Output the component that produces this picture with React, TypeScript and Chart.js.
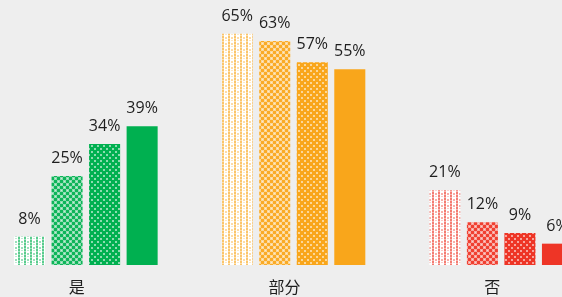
import React, { useEffect, useRef } from "react";
import { Chart, registerables } from "chart.js";

Chart.register(...registerables);

const categories = ["是", "部分", "否"];
const seriesNames = ["系列1", "系列2", "系列3", "系列4"];
const series1 = [8, 65, 21];
const series2 = [25, 63, 12];
const series3 = [34, 57, 9];
const series4 = [39, 55, 6];
const categoryColors = ["#00b050", "#f9a61b", "#ee3526"];

function makePattern(color: string, level: number): CanvasPattern | string {
  if (level === 3) return color;
  const c = document.createElement("canvas");
  c.width = 6;
  c.height = 6;
  const g = c.getContext("2d")!;
  g.fillStyle = "#ffffff";
  g.fillRect(0, 0, 6, 6);
  g.fillStyle = color;
  if (level === 0) {
    g.globalAlpha = 0.65;
    g.fillRect(0, 0, 2, 2);
    g.fillRect(0, 3, 2, 2);
    g.globalAlpha = 0.35;
    g.fillRect(0, 2, 2, 1);
    g.fillRect(0, 5, 2, 1);
    g.globalAlpha = 0.4;
    g.fillRect(3, 1, 2, 2);
    g.globalAlpha = 0.25;
    g.fillRect(3, 4, 2, 1);
  } else if (level === 1) {
    g.globalAlpha = 0.45;
    g.fillRect(0, 0, 6, 6);
    g.globalAlpha = 0.9;
    g.fillRect(0, 0, 3, 3);
    g.fillRect(3, 3, 3, 3);
    g.fillStyle = "#ffffff";
    g.globalAlpha = 0.5;
    g.fillRect(1, 4, 1, 1);
    g.fillRect(4, 1, 1, 1);
  } else {
    g.globalAlpha = 1;
    g.fillRect(0, 0, 6, 6);
    g.fillStyle = "#ffffff";
    g.globalAlpha = 0.55;
    g.fillRect(1, 1, 2, 2);
    g.fillRect(4, 4, 2, 2);
  }
  const ctx = document.createElement("canvas").getContext("2d")!;
  return ctx.createPattern(c, "repeat")!;
}

export default function App() {
  const ref = useRef<HTMLCanvasElement | null>(null);

  useEffect(() => {
    if (!ref.current) return;
    const allSeries = [series1, series2, series3, series4];
    const fills = allSeries.map((_, s) => categoryColors.map((col) => makePattern(col, s)));

    const labelPlugin = {
      id: "valueLabels",
      afterDatasetsDraw(chart: any) {
        const ctx = chart.ctx;
        ctx.save();
        ctx.font = '16px "Open Sans", "Noto Sans", sans-serif';
        ctx.fillStyle = "#1e1e1e";
        ctx.textAlign = "center";
        ctx.textBaseline = "alphabetic";
        chart.data.datasets.forEach((ds: any, di: number) => {
          const meta = chart.getDatasetMeta(di);
          meta.data.forEach((el: any, i: number) => {
            ctx.fillText(`${ds.data[i]}%`, el.x, el.y - 13);
          });
        });
        ctx.font = '16px "Noto Sans CJK SC", sans-serif';
        ctx.textBaseline = "middle";
        const xs = chart.scales.x;
        chart.data.labels.forEach((lab: string, i: number) => {
          ctx.fillText(lab, xs.getPixelForValue(i) - 9, 287);
        });
        ctx.restore();
      },
    };

    const chart = new Chart(ref.current, {
      type: "bar",
      data: {
        labels: categories,
        datasets: allSeries.map((d, s) => ({
          label: seriesNames[s],
          data: d,
          backgroundColor: fills[s],
          borderWidth: 0,
          categoryPercentage: 0.7229,
          barPercentage: 0.827,
        })),
      },
      options: {
        responsive: false,
        animation: false,
        layout: { padding: { left: 0, right: 0, top: 0, bottom: 32 } },
        plugins: { legend: { display: false }, tooltip: { enabled: false } },
        scales: {
          x: { display: false },
          y: { display: false, min: 0, max: 74.5 },
        },
      },
      plugins: [labelPlugin],
    });
    return () => chart.destroy();
  }, []);

  return (
    <div
      style={{
        position: "fixed",
        left: 0,
        top: 0,
        width: 562,
        height: 297,
        overflow: "hidden",
        background: "#eeeeee",
      }}
    >
      <canvas
        ref={ref}
        width={623}
        height={297}
        style={{ position: "absolute", left: -18, top: 0, width: 623, height: 297 }}
      />
    </div>
  );
}
